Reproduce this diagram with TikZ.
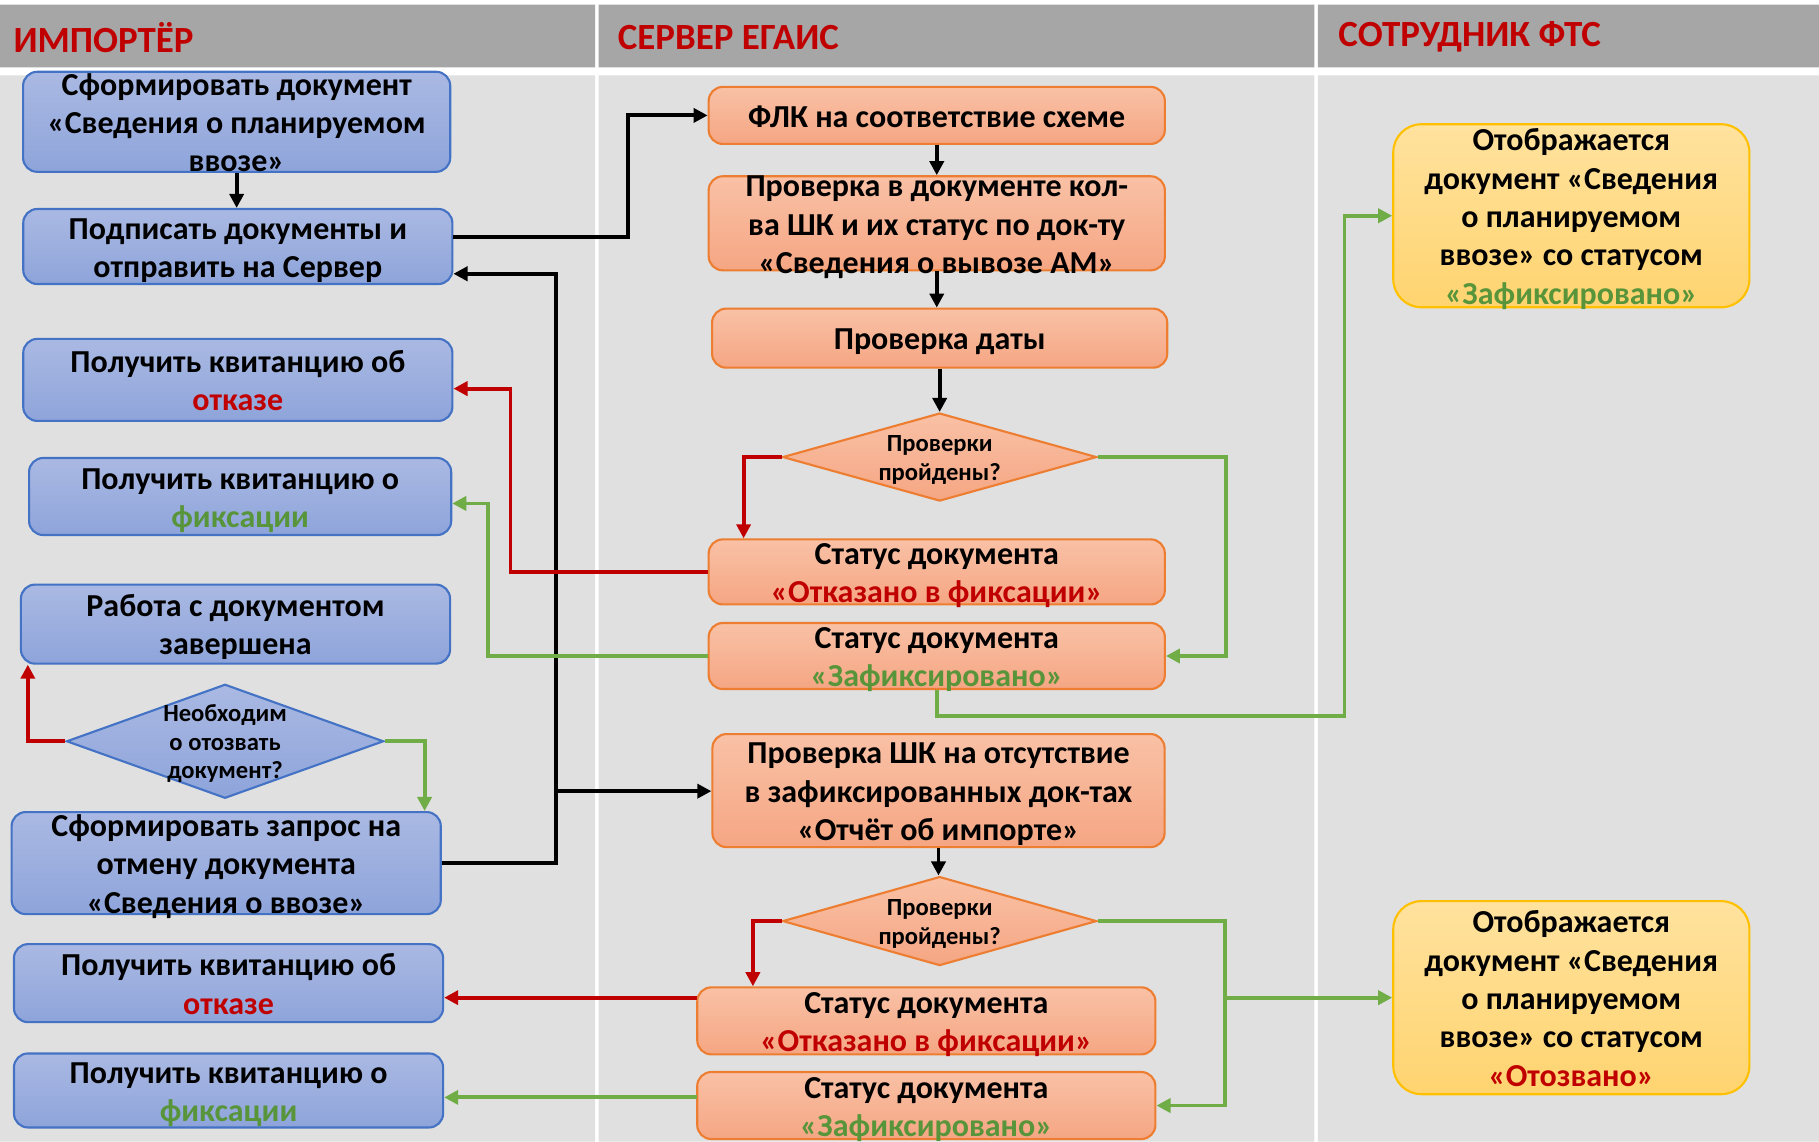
\documentclass[tikz,border=0pt]{standalone}
\usepackage{fontspec}
\setmainfont{Carlito}
\usepackage{tikz}
\usetikzlibrary{shapes.geometric,arrows.meta}

\definecolor{hdrgray}{HTML}{A6A6A6}
\definecolor{lanegray}{HTML}{E0E0E0}
\definecolor{impline}{HTML}{4472C4}
\definecolor{imptop}{HTML}{AAB9E3}
\definecolor{impbot}{HTML}{8EA4DA}
\definecolor{srvline}{HTML}{ED7D31}
\definecolor{srvtop}{HTML}{F9C1A6}
\definecolor{srvbot}{HTML}{F5A683}
\definecolor{ftsline}{HTML}{FFC000}
\definecolor{ftstop}{HTML}{FFE29E}
\definecolor{ftsbot}{HTML}{FFD470}
\definecolor{refred}{HTML}{C00000}
\definecolor{okline}{HTML}{70AD47}
\definecolor{oktext}{HTML}{58953A}

\newcommand{\boxfont}{\fontsize{9.1}{10.9}\selectfont\bfseries}
\newcommand{\askfont}{\fontsize{7}{8.1}\selectfont\bfseries}
\newcommand{\lanefont}{\fontsize{10.5}{12}\selectfont\bfseries}
\newcommand{\boxlines}[2][1.15pt]{\raisebox{-#1}[\height][\depth]{\begin{tabular}{@{}c@{}}#2\end{tabular}}}

\begin{document}
\begin{tikzpicture}[x=0.0116cm,y=-0.0116cm,line width=1.1pt,
  >={Triangle[length=4pt,width=4pt]},
  imp node/.style={draw=impline,line width=0.6pt,rounded corners=4pt,
    top color=imptop,bottom color=impbot,font=\boxfont,
    inner xsep=0pt,inner ysep=-4pt},
  srv node/.style={imp node,draw=srvline,top color=srvtop,bottom color=srvbot},
  fts node/.style={imp node,draw=ftsline,top color=ftstop,bottom color=ftsbot,
    rounded corners=8pt},
  imp ask/.style={diamond,draw=impline,line width=0.6pt,top color=imptop,
    bottom color=impbot,font=\askfont,inner sep=-3pt,aspect=2.8},
  srv ask/.style={imp ask,draw=srvline,top color=srvtop,bottom color=srvbot},
  lane title/.style={anchor=west,inner sep=0pt,text=refred,font=\lanefont}]

  \useasboundingbox (0,0) rectangle (1568,984);
  \fill[white] (0,0) rectangle (1568,984);
  \fill[lanegray] (0,65) rectangle (513,984) (516,65) rectangle (1133,984)
    (1136,65) rectangle (1568,984);
  \fill[hdrgray] (0,4) rectangle (513,58) (516,4) rectangle (1133,58)
    (1136,4) rectangle (1568,58);

  \node[lane title] (h1) at (10,32) {ИМПОРТЁР};
  \node[lane title] (h2) at (531,32) {СЕРВЕР ЕГАИС};
  \node[lane title] (h3) at (1152,32) {СОТРУДНИК ФТС};

  % importer
  \node[imp node,minimum width=4.27cm,minimum height=1.00cm] (i1) at (204,105)
    {\boxlines{Сформировать документ\\«Сведения о планируемом\\ввозе»}};
  \node[imp node,minimum width=4.29cm,minimum height=0.75cm] (i2) at (205,212.5)
    {\boxlines{Подписать документы и\\отправить на Сервер}};
  \node[imp node,minimum width=4.29cm,minimum height=0.82cm] (i3) at (205,327.5)
    {\boxlines{Получить квитанцию об\\\textcolor{refred}{отказе}}};
  \node[imp node,minimum width=4.22cm,minimum height=0.77cm] (i4) at (207,428)
    {\boxlines{Получить квитанцию о\\\textcolor{oktext}{фиксации}}};
  \node[imp node,minimum width=4.29cm,minimum height=0.79cm] (i5) at (203,538)
    {\boxlines{Работа с документом\\завершена}};
  \node[imp ask,minimum width=3.17cm,minimum height=1.14cm] (q1) at (194,639)
    {\boxlines[0.9pt]{Необходим\\о отозвать\\документ?}};
  \node[imp node,minimum width=4.29cm,minimum height=1.02cm] (i6) at (195,744)
    {\boxlines{Сформировать запрос на\\отмену документа\\«Сведения о ввозе»}};
  \node[imp node,minimum width=4.29cm,minimum height=0.78cm] (i7) at (197,847.5)
    {\boxlines{Получить квитанцию об\\\textcolor{refred}{отказе}}};
  \node[imp node,minimum width=4.29cm,minimum height=0.74cm] (i8) at (197,940)
    {\boxlines{Получить квитанцию о\\\textcolor{oktext}{фиксации}}};

  % server
  \node[srv node,minimum width=4.56cm,minimum height=0.57cm] (s1) at (807.5,99.5)
    {\boxlines{ФЛК на соответствие схеме}};
  \node[srv node,minimum width=4.56cm,minimum height=0.94cm] (s2) at (807.5,192.5)
    {\boxlines{Проверка в документе кол-\\ва ШК и их статус по док-ту\\«Сведения о вывозе АМ»}};
  \node[srv node,minimum width=4.55cm,minimum height=0.59cm] (s3) at (810,291.5)
    {\boxlines{Проверка даты}};
  \node[srv ask,minimum width=3.14cm,minimum height=0.88cm] (s4) at (810,394)
    {\boxlines[0.9pt]{Проверки\\пройдены?}};
  \node[srv node,minimum width=4.56cm,minimum height=0.65cm] (s5) at (807.5,493)
    {\boxlines{Статус документа\\\textcolor{refred}{«Отказано в фиксации»}}};
  \node[srv node,minimum width=4.56cm,minimum height=0.66cm] (s6) at (807.5,565.5)
    {\boxlines{Статус документа\\\textcolor{oktext}{«Зафиксировано»}}};
  \node[srv node,minimum width=4.52cm,minimum height=1.13cm] (s7) at (809,681.5)
    {\boxlines{Проверка ШК на отсутствие\\в зафиксированных док-тах\\«Отчёт об импорте»}};
  \node[srv ask,minimum width=3.14cm,minimum height=0.89cm] (s8) at (810,794)
    {\boxlines[0.9pt]{Проверки\\пройдены?}};
  \node[srv node,minimum width=4.58cm,minimum height=0.67cm] (s9) at (798.5,880)
    {\boxlines{Статус документа\\\textcolor{refred}{«Отказано в фиксации»}}};
  \node[srv node,minimum width=4.58cm,minimum height=0.67cm] (s10) at (798.5,953)
    {\boxlines{Статус документа\\\textcolor{oktext}{«Зафиксировано»}}};

  % fts
  \node[fts node,minimum width=3.56cm,minimum height=1.83cm] (f1) at (1354.5,186)
    {\boxlines{Отображается\\документ «Сведения\\о планируемом\\ввозе» со статусом\\\textcolor{oktext}{«Зафиксировано»}}};
  \node[fts node,minimum width=3.56cm,minimum height=1.93cm] (f2) at (1354.5,860)
    {\boxlines{Отображается\\документ «Сведения\\о планируемом\\ввозе» со статусом\\\textcolor{refred}{«Отозвано»}}};

  \coordinate (k0) at (541,204);
  \coordinate (k2) at (479,236);
  \coordinate (k3) at (479,682);
  \coordinate (r1) at (641,394);
  \coordinate (r2) at (440,335);
  \coordinate (r3) at (24,639);
  \coordinate (r4) at (649,794);
  \coordinate (r5) at (601,860);
  \coordinate (g1) at (1057,394);
  \coordinate (g2) at (421,434);
  \coordinate (g3) at (1159,617);
  \coordinate (g4) at (366,639);
  \coordinate (g5) at (1056,794);
  \coordinate (g6) at (1056,860);
  \coordinate (g7) at (601,946);

  \path[->] (i1.south) edge (i1.south |- i2.north)
    (s1.south) edge (s1.south |- s2.north)
    (s2.south) edge (s2.south |- s3.north)
    (s3.south) edge (s3.south |- s4.north)
    (s7.south) edge (s7.south |- s8.north);
  \draw[->] (i2.east |- k0) -- (k0) |- (s1.west);
  \draw[->] (i6.east) -| (k2) -- (i2.east |- k2);
  \draw[->] (k3) -- (k3 -| s7.west);

  \draw[->,refred] (s4.west) -- (r1) -- (r1 |- s5.north);
  \draw[->,refred] (s5.west) -| (r2) -- (i3.east |- r2);
  \draw[->,refred] (q1.west) -- (r3) -- (r3 |- i5.south);
  \draw[->,refred] (s8.west) -- (r4) -- (r4 |- s9.north);
  \draw[->,refred] (r5) -- (i7.east |- r5);

  \draw[->,okline] (s4.east) -- (g1) |- (s6.east);
  \draw[->,okline] (s6.west) -| (g2) -- (i4.east |- g2);
  \draw[->,okline] (s6.south) |- (g3) |- (f1.west);
  \draw[->,okline] (q1.east) -- (g4) -- (g4 |- i6.north);
  \draw[->,okline] (s8.east) -- (g5) |- (s10.east);
  \draw[->,okline] (g6) -- (f2.west);
  \draw[->,okline] (g7) -- (i8.east |- g7);

\end{tikzpicture}
\end{document}
